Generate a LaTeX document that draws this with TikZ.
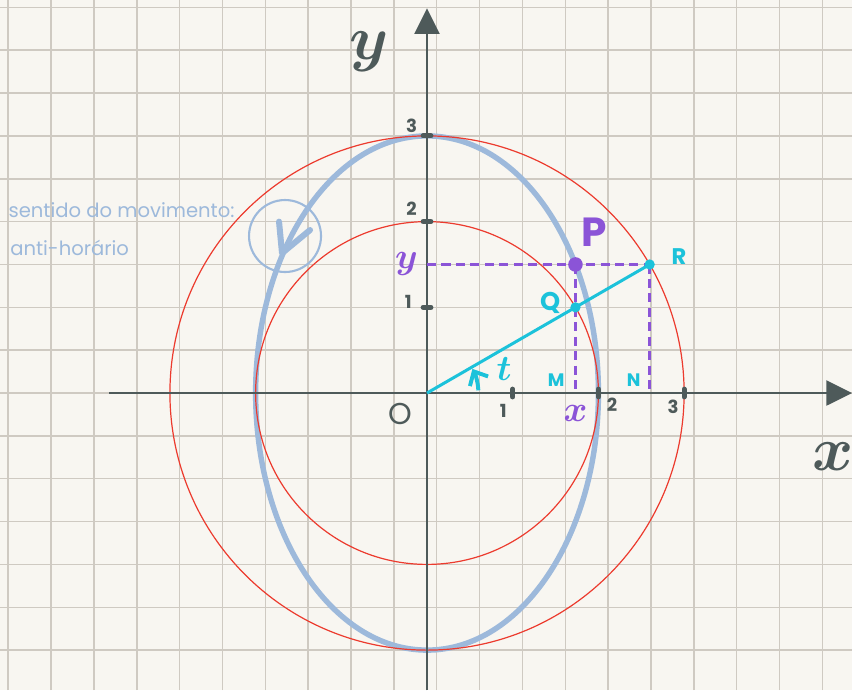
\documentclass[tikz,border=0pt]{standalone}
\usepackage{fontspec}
\setmainfont{Poppins}
\usepackage{amsmath}
\usetikzlibrary{arrows.meta,positioning,calc}
\definecolor{paper}{RGB}{248,246,241}
\definecolor{gridc}{RGB}{207,202,194}
\definecolor{axisc}{RGB}{78,90,90}
\definecolor{ellc}{RGB}{157,185,219}
\definecolor{circc}{RGB}{236,59,46}
\definecolor{cyanc}{RGB}{28,194,218}
\definecolor{purc}{RGB}{139,84,215}

\begin{document}
\begin{tikzpicture}[scale=1.0,
    gridline/.style={gridc, line width=0.5pt},
    axis/.style={axisc, line width=0.9pt, -{Triangle[length=3mm,width=2.9mm]}},
    tickmark/.style={axisc, line width=1.7pt, line cap=round},
    dashline/.style={purc, line width=0.8pt, dash pattern=on 3pt off 1.8pt},
    lbl/.style={inner sep=0pt},
    ticklbl/.style={lbl, axisc, font=\fontsize{6}{7}\selectfont\bfseries},
    note/.style={inner sep=0pt, ellc, font=\fontsize{6.5}{8}\selectfont}
  ]
    % Paper and grid
    \fill[paper] (-4.983,-3.466) rectangle (4.959,4.586);
    \useasboundingbox (-4.983,-3.466) rectangle (4.959,4.586);
    \foreach \i in {-10,...,9}
      \draw[gridline] ({0.113+0.5*\i},-3.466) -- ({0.113+0.5*\i},4.586);
    \foreach \j in {-6,...,9}
      \draw[gridline] (-4.983,0.5*\j) -- (4.959,0.5*\j);

    % Main points
    \coordinate (O) at (0,0);
    \coordinate (Q) at ({2*cos(30)},{2*sin(30)});
    \coordinate (R) at ({3*cos(30)},{3*sin(30)});
    \coordinate (P) at ({2*cos(30)},{3*sin(30)});
    \coordinate (M) at ({2*cos(30)},0);
    \coordinate (N) at ({3*cos(30)},0);
    \coordinate (Yc) at (0,{3*sin(30)});

    % The ellipse and the two circles
    \draw[ellc, line width=1.8pt] (O) ellipse (2 and 3);
    \draw[circc, line width=0.4pt] (O) circle (2);
    \draw[circc, line width=0.4pt] (O) circle (3);

    % Axes
    \coordinate (xl) at (-3.71,0);
    \coordinate (xr) at (4.96,0);
    \coordinate (yb) at (0,-3.47);
    \coordinate (yt) at (0,4.49);
    \draw[axis] (xl) -- (xr);
    \draw[axis] (yb) -- (yt);
    \foreach \k in {1,2,3} {
      \draw[tickmark] (\k,-0.045) -- (\k,0.045);
      \draw[tickmark] (-0.045,\k) -- (0.045,\k);
    }
    \node[ticklbl] (lx1) at (0.89,-0.21) {1};
    \node[ticklbl] (lx2) at (2.16,-0.14) {2};
    \node[ticklbl] (lx3) at (2.87,-0.16) {3};
    \node[ticklbl] (ly1) at (-0.22,1.06) {1};
    \node[ticklbl] (ly2) at (-0.18,2.15) {2};
    \node[ticklbl] (ly3) at (-0.18,3.12) {3};
    \node[lbl, axisc, font=\fontsize{10}{12}\selectfont, below left=0.11 and 0.17 of O] (Olbl) {O};
    \node[lbl, axisc, font=\fontsize{20}{22}\selectfont] (xlbl) at (4.74,-0.74) {$\boldsymbol{x}$};
    \node[lbl, axisc, font=\fontsize{20}{22}\selectfont] (ylbl) at (-0.68,3.98) {$\boldsymbol{y}$};

    % Projections
    \draw[dashline] (Yc) -- (R);
    \draw[dashline] (P) -- (M);
    \draw[dashline] (R) -- (N);

    % The ray and the angle t
    \draw[cyanc, line width=1pt] (O) -- (R);
    \draw[cyanc, line width=1.3pt, -{Straight Barb[length=1.3mm,width=2.4mm]}]
      ([shift={(3:0.6)}]O) arc (3:28:0.6);
    \node[lbl, cyanc, font=\fontsize{13}{15}\selectfont] (tlbl) at (0.9,0.28) {$\boldsymbol{t}$};

    % Points
    \fill[cyanc] (Q) circle (0.06);
    \fill[cyanc] (R) circle (0.06);
    \fill[purc] (P) circle (0.085);
    \node[lbl, purc, font=\fontsize{13.5}{15}\selectfont\bfseries, above right=0.2 and 0.06 of P] (Plbl) {P};
    \node[lbl, cyanc, font=\fontsize{8.5}{10}\selectfont\bfseries, left=0.17 of Q, yshift=1.5pt] (Qlbl) {Q};
    \node[lbl, cyanc, font=\fontsize{7.5}{9}\selectfont\bfseries, right=0.25 of R, yshift=2.5pt] (Rlbl) {R};
    \node[lbl, cyanc, font=\fontsize{6}{7}\selectfont\bfseries, above left=0.07 and 0.12 of M] (Mlbl) {M};
    \node[lbl, cyanc, font=\fontsize{6}{7}\selectfont\bfseries, above left=0.07 and 0.1 of N] (Nlbl) {N};
    \node[lbl, purc, font=\fontsize{13}{15}\selectfont, left=0.1 of Yc] (ylbl2) {$\boldsymbol{y}$};
    \node[lbl, purc, font=\fontsize{13}{15}\selectfont, below=0.14 of M] (xlbl2) {$\boldsymbol{x}$};

    % Direction of motion
    \coordinate (vtip) at (-1.692,1.632);
    \coordinate (varmA) at (-1.727,2.0);
    \coordinate (varmB) at (-1.365,1.902);
    \draw[ellc, line width=0.7pt] (-1.657,1.832) circle (0.42);
    \draw[ellc, line width=2pt, line cap=round, line join=round] (varmA) -- (vtip) -- (varmB);
    \node[note, anchor=west] (note1) at (-4.89,2.135) {sentido do movimento:};
    \node[note, anchor=west] (note2) at (-4.87,1.69) {anti-horário};
  \end{tikzpicture}
\end{document}
